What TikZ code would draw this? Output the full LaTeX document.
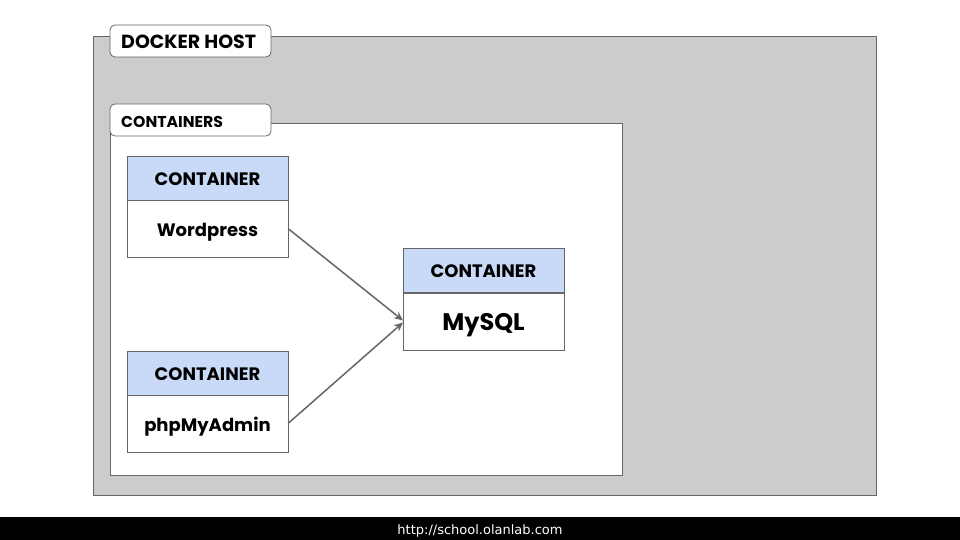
\documentclass[tikz,border=0pt]{standalone}
\usepackage{fontspec}
\setmainfont{Poppins}
\newfontfamily\footfont{DejaVu Sans}
\usetikzlibrary{arrows.meta}
\definecolor{hostgray}{HTML}{CCCCCC}
\definecolor{edgegray}{HTML}{666666}
\definecolor{hdrblue}{HTML}{C9DAF8}
\tikzset{
  panel/.style={draw=edgegray, line width=0.8pt, anchor=north west, inner sep=0, outer sep=0},
  tab/.style={draw=edgegray, fill=white, line width=0.8pt, rounded corners=5pt, anchor=north west, inner sep=0, outer sep=0, minimum width=161pt, minimum height=32pt},
  tabtext/.style={anchor=west, inner sep=0, font=\bfseries},
  hdr/.style={draw=edgegray, fill=hdrblue, line width=0.8pt, anchor=north west, inner sep=0, outer sep=0, minimum width=161pt, minimum height=44pt},
  body/.style={draw=edgegray, fill=white, line width=0.8pt, anchor=north west, inner sep=0, outer sep=0, minimum width=161pt, minimum height=57pt},
  lbl/.style={inner sep=0, font=\bfseries\fontsize{18}{20}\selectfont},
  link/.style={draw=edgegray, line width=1.5pt, -{Stealth[length=9pt,width=8pt]}}
}
\begin{document}
\begin{tikzpicture}[x=1pt,y=-1pt]
\useasboundingbox (0,0) rectangle (960,540);
\fill[white] (0,0) rectangle (960,540);
% docker host
\node[panel, fill=hostgray, minimum width=783pt, minimum height=459pt] (host) at (93,36) {};
\node[tab] (hosttab) at (110,25) {};
\node[tabtext, font=\bfseries\fontsize{19}{21}\selectfont] (hostlbl) at (121,42) {DOCKER HOST};
% containers
\node[panel, fill=white, minimum width=512pt, minimum height=352pt] (ctrs) at (110,123) {};
\node[tab] (ctrstab) at (110,104) {};
\node[tabtext, font=\bfseries\fontsize{15.7}{18}\selectfont] (ctrslbl) at (121,122) {CONTAINERS};
% wordpress
\node[hdr] (wph) at (127,156) {};
\node[lbl] (wpht) at ([yshift=-1.5pt]wph.center) {CONTAINER};
\node[body] (wp) at (127,200) {};
\node[lbl] (wpt) at ([yshift=-4pt]wp.center) {Wordpress};
% phpmyadmin
\node[hdr] (pmah) at (127,351) {};
\node[lbl] (pmaht) at ([yshift=-1.5pt]pmah.center) {CONTAINER};
\node[body] (pma) at (127,395) {};
\node[lbl] (pmat) at ([yshift=-3pt]pma.center) {phpMyAdmin};
% mysql
\node[hdr] (myh) at (403,248) {};
\node[lbl] (myht) at ([yshift=-1.5pt]myh.center) {CONTAINER};
\node[body] (my) at (403,293) {};
\node[lbl, font=\bfseries\fontsize{24}{26}\selectfont] (myt) at ([yshift=-4pt]my.center) {MySQL};
% links
\draw[link] (wp.east) -- ([yshift=1pt]my.west);
\draw[link] (pma.east) -- ([yshift=-1pt]my.west);
% footer
\fill[black] (0,517) rectangle (960,540);
\node[text=white, font=\footfont\fontsize{13}{15}\selectfont, inner sep=0] (foot) at (480,530.5) {http://school.olanlab.com};
\end{tikzpicture}
\end{document}
